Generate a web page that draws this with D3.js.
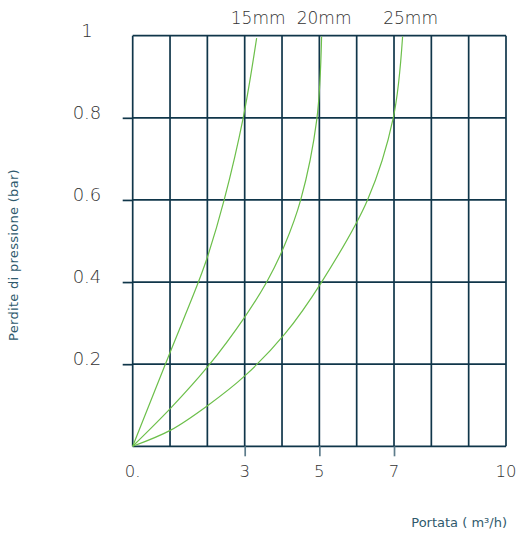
<!DOCTYPE html>
<html>
<head>
<meta charset="utf-8">
<script src="https://cdn.jsdelivr.net/npm/d3@7"></script>
<style>
  html, body { margin: 0; padding: 0; background: #fff; }
  svg { display: block; }
</style>
</head>
<body>
<svg id="chart" width="516" height="533"></svg>
<script>
// ---- data ----
const seriesNames = ["15mm", "20mm", "25mm"];
const flow15 = [0, 1.03, 1.76, 2.02, 2.45, 2.96, 3.32];
const loss15 = [0, 0.235, 0.40, 0.466, 0.60, 0.80, 0.994];
const flow20 = [0, 1.03, 2.02, 3.01, 3.59, 4.07, 4.50, 4.93, 5.06];
const loss20 = [0, 0.094, 0.195, 0.316, 0.40, 0.49, 0.60, 0.795, 0.998];
const flow25 = [0, 1.03, 2.02, 3.01, 4.07, 5.06, 6.29, 6.98, 7.23];
const loss25 = [0, 0.04, 0.10, 0.172, 0.273, 0.40, 0.60, 0.80, 0.998];
const xGridValues = [0, 1, 2, 3, 4, 5, 6, 7, 8, 9, 10];
const xTickValues = [0, 3, 5, 7, 10];
const xTickLabels = ["0.", "3", "5", "7", "10"];
const yGridValues = [0, 0.2, 0.4, 0.6, 0.8, 1];
const yTickLabels = ["0.2", "0.4", "0.6", "0.8", "1"];
const yTickValues = [0.2, 0.4, 0.6, 0.8, 1];
const xTitle = "Portata ( m³/h)";
const yTitle = "Perdite di pressione  (bar)";

// ---- layout ----
const svg = d3.select("#chart");
const x = d3.scaleLinear().domain([0, 10]).range([132.7, 506]);
const y = d3.scaleLinear().domain([0, 1]).range([446.3, 35.7]);
const gridColor = "#10364a";
const curveColor = "#6cbf4a";
const labelColor = "#333333";
const titleColor = "#2f5a6d";
const font = "'DejaVu Sans', sans-serif";

// grid: vertical
const grid = svg.append("g");
grid.selectAll("line.v").data(xGridValues).join("line")
  .attr("x1", d => x(d)).attr("x2", d => x(d))
  .attr("y1", y(1)).attr("y2", y(0))
  .attr("stroke", gridColor).attr("stroke-width", 1.7);
// grid: horizontal
grid.selectAll("line.h").data(yGridValues).join("line")
  .attr("x1", x(0)).attr("x2", x(10))
  .attr("y1", d => y(d)).attr("y2", d => y(d))
  .attr("stroke", gridColor).attr("stroke-width", 1.7);

// tick marks via axes
const xAxis = d3.axisBottom(x).tickValues([3, 5, 7]).tickSize(10).tickFormat("");
svg.append("g").attr("transform", `translate(0,${y(0)})`).call(xAxis)
  .call(g => g.select(".domain").remove())
  .call(g => g.selectAll(".tick line").attr("stroke", "#5d7c8b").attr("stroke-width", 1.7));
const yAxis = d3.axisLeft(y).tickValues([0.2, 0.4, 0.6, 0.8]).tickSize(10).tickFormat("");
svg.append("g").attr("transform", `translate(${x(0)},0)`).call(yAxis)
  .call(g => g.select(".domain").remove())
  .call(g => g.selectAll(".tick line").attr("stroke", gridColor).attr("stroke-width", 1.7));

// tick labels
svg.append("g").selectAll("text").data(xTickValues).join("text")
  .attr("x", d => x(d)).attr("y", 477)
  .attr("text-anchor", "middle")
  .attr("font-family", font).attr("font-weight", 200).attr("font-size", 16.5)
  .attr("fill", labelColor)
  .text((d, i) => xTickLabels[i]);
svg.append("g").selectAll("text").data(yTickValues).join("text")
  .attr("x", 87).attr("y", d => y(d) + 1)
  .attr("text-anchor", "middle")
  .attr("font-family", font).attr("font-weight", 200).attr("font-size", 18)
  .attr("fill", labelColor)
  .text((d, i) => yTickLabels[i]);

// curves
const series = [
  {name: seriesNames[0], xs: flow15, ys: loss15},
  {name: seriesNames[1], xs: flow20, ys: loss20},
  {name: seriesNames[2], xs: flow25, ys: loss25}
];
const line = d3.line().x(d => x(d[0])).y(d => y(d[1])).curve(d3.curveCatmullRom.alpha(0.5));
svg.append("g").selectAll("path").data(series).join("path")
  .attr("d", s => line(s.xs.map((v, i) => [v, s.ys[i]])))
  .attr("fill", "none").attr("stroke", curveColor).attr("stroke-width", 1.2);

// series labels at top
svg.append("g").selectAll("text").data(series).join("text")
  .attr("x", (s, i) => x(s.xs[s.xs.length - 1]) + [1.5, 2.5, 8][i])
  .attr("y", 24)
  .attr("text-anchor", "middle")
  .attr("font-family", font).attr("font-weight", 200).attr("font-size", 17)
  .attr("fill", labelColor)
  .text(s => s.name);

// axis titles
svg.append("text")
  .attr("x", 507).attr("y", 527)
  .attr("text-anchor", "end")
  .attr("font-family", font).attr("font-size", 13)
  .attr("fill", titleColor)
  .text(xTitle);
svg.append("text")
  .attr("transform", "translate(18,255) rotate(-90)")
  .attr("text-anchor", "middle")
  .attr("font-family", font).attr("font-size", 13)
  .attr("letter-spacing", 0.3)
  .attr("fill", titleColor)
  .text(yTitle);
</script>
</body>
</html>
